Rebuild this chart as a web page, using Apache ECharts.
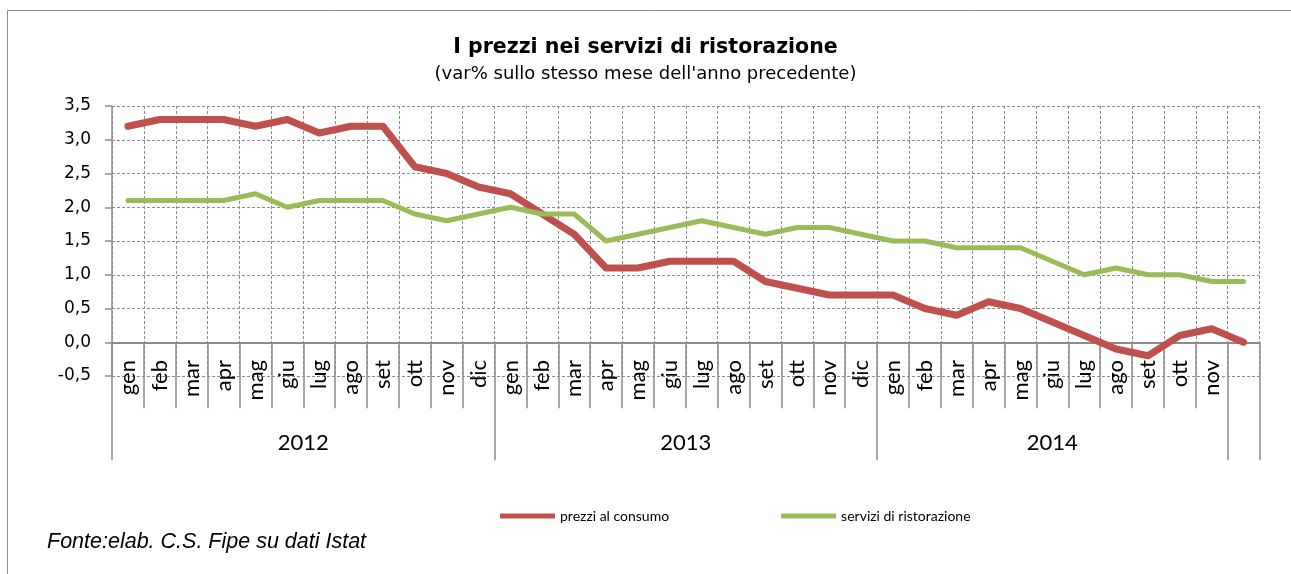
<!DOCTYPE html>
<html>
<head>
<meta charset="utf-8">
<title>I prezzi nei servizi di ristorazione</title>
<script src="https://cdn.jsdelivr.net/npm/echarts@6/dist/echarts.min.js"></script>
<style>
html, body { margin: 0; padding: 0; background: #fff; }
#chart { width: 1291px; height: 574px; }
</style>
</head>
<body>
<div id="chart"></div>
<script>
// mesi 2012-2014 (l'ultimo mese non ha etichetta nell'originale)
var months = [
  'gen','feb','mar','apr','mag','giu','lug','ago','set','ott','nov','dic',
  'gen','feb','mar','apr','mag','giu','lug','ago','set','ott','nov','dic',
  'gen','feb','mar','apr','mag','giu','lug','ago','set','ott','nov',''
]
var years = ['2012', '2013', '2014']
var yearSpans = [12, 12, 11]   // colonne coperte da ogni etichetta anno

var prezzi = [
  3.2, 3.3, 3.3, 3.3, 3.2, 3.3, 3.1, 3.2, 3.2, 2.6, 2.5, 2.3,
  2.2, 1.9, 1.6, 1.1, 1.1, 1.2, 1.2, 1.2, 0.9, 0.8, 0.7, 0.7,
  0.7, 0.5, 0.4, 0.6, 0.5, 0.3, 0.1, -0.1, -0.2, 0.1, 0.2, 0.0
]
var servizi = [
  2.1, 2.1, 2.1, 2.1, 2.2, 2.0, 2.1, 2.1, 2.1, 1.9, 1.8, 1.9,
  2.0, 1.9, 1.9, 1.5, 1.6, 1.7, 1.8, 1.7, 1.6, 1.7, 1.7, 1.6,
  1.5, 1.5, 1.4, 1.4, 1.4, 1.2, 1.0, 1.1, 1.0, 1.0, 0.9, 0.9
]

var yMin = -0.5, yMax = 3.5, yStep = 0.5

// confini e centri dei gruppi anno
var yearBounds = [], yearCenters = []
var acc = 0
yearSpans.forEach(function (s) {
  yearBounds.push(acc)
  yearCenters.push(acc + s / 2)
  acc += s
})
yearBounds.push(acc)

var gray = '#8c8c8c'
var chart = echarts.init(document.getElementById('chart'))

chart.setOption({
  animation: false,
  title: [
    {
      text: 'I prezzi nei servizi di ristorazione',
      left: 'center', top: 32,
      textStyle: { fontFamily: 'DejaVu Sans', fontWeight: 'bold', fontSize: 20.5, color: '#000' }
    },
    {
      text: "(var% sullo stesso mese dell'anno precedente)",
      left: 'center', top: 60,
      textStyle: { fontFamily: 'DejaVu Sans', fontWeight: 'normal', fontSize: 18, color: '#000' }
    }
  ],
  legend: {
    left: 495, top: 504,
    icon: 'rect',
    itemWidth: 55, itemHeight: 5, itemGap: 112,
    textStyle: { fontFamily: 'Lato', fontSize: 14, color: '#000' },
    data: ['prezzi al consumo', 'servizi di ristorazione']
  },
  grid: { left: 112, right: 31.5, top: 106, bottom: 198 },
  xAxis: [
    {
      type: 'category',
      data: months,
      axisLine: { show: true, onZero: true, lineStyle: { color: gray, width: 2 } },
      axisTick: { show: true, interval: 0, length: 66, lineStyle: { color: gray, width: 1.5 } },
      axisLabel: {
        interval: 0, rotate: 90, margin: -16,
        fontFamily: 'Lato', fontSize: 22, color: '#000'
      },
      splitLine: { show: true, interval: 0, lineStyle: { color: gray, type: [3, 2], width: 1 } }
    },
    {
      // separatori degli anni
      type: 'category',
      data: months,
      position: 'bottom',
      axisLine: { show: false, onZero: true, onZeroAxisIndex: 0 },
      axisTick: {
        show: true,
        length: 118,
        interval: function (i) { return yearBounds.indexOf(i) >= 0 || i === months.length - 1 },
        lineStyle: { color: gray, width: 1.5 }
      },
      axisLabel: { show: false },
      splitLine: { show: false }
    },
    {
      // etichette anno
      type: 'value',
      min: 0, max: months.length, interval: 0.5,
      position: 'bottom',
      axisLine: { show: false, onZero: true, onZeroAxisIndex: 0 },
      axisTick: { show: false },
      splitLine: { show: false },
      axisLabel: {
        margin: 56,
        fontFamily: 'Lato', fontSize: 22, color: '#000',
        formatter: function (v) {
          for (var k = 0; k < yearCenters.length; k++) {
            if (Math.abs(v - yearCenters[k]) < 1e-6) return years[k]
          }
          return ''
        }
      }
    }
  ],
  yAxis: {
    type: 'value',
    min: yMin, max: yMax, interval: yStep,
    axisLine: { show: true, lineStyle: { color: gray, width: 1.5 } },
    axisTick: { show: true, length: 7, lineStyle: { color: gray, width: 1.5 } },
    axisLabel: {
      margin: 21,
      fontFamily: 'DejaVu Sans', fontSize: 17, color: '#000',
      formatter: function (v) { return v.toFixed(1).replace('.', ',') }
    },
    splitLine: { lineStyle: { color: gray, type: [3, 2], width: 1 } }
  },
  series: [
    {
      name: 'prezzi al consumo',
      type: 'line',
      data: prezzi,
      symbol: 'none',
      color: '#C0504D',
      lineStyle: { width: 7, color: '#C0504D', cap: 'round', join: 'round' }
    },
    {
      name: 'servizi di ristorazione',
      type: 'line',
      data: servizi,
      symbol: 'none',
      color: '#9BBB59',
      lineStyle: { width: 5, color: '#9BBB59', cap: 'round', join: 'round' }
    }
  ],
  graphic: [
    {
      type: 'rect', silent: true, z: -10,
      shape: { x: 7.5, y: 10.5, width: 1400, height: 700 },
      style: { fill: 'none', stroke: gray, lineWidth: 1 }
    },
    {
      type: 'text', left: 47, top: 531,
      style: {
        text: 'Fonte:elab. C.S. Fipe su dati Istat',
        font: 'italic 21.5px "Liberation Sans"',
        fill: '#000'
      }
    }
  ]
})
</script>
</body>
</html>
